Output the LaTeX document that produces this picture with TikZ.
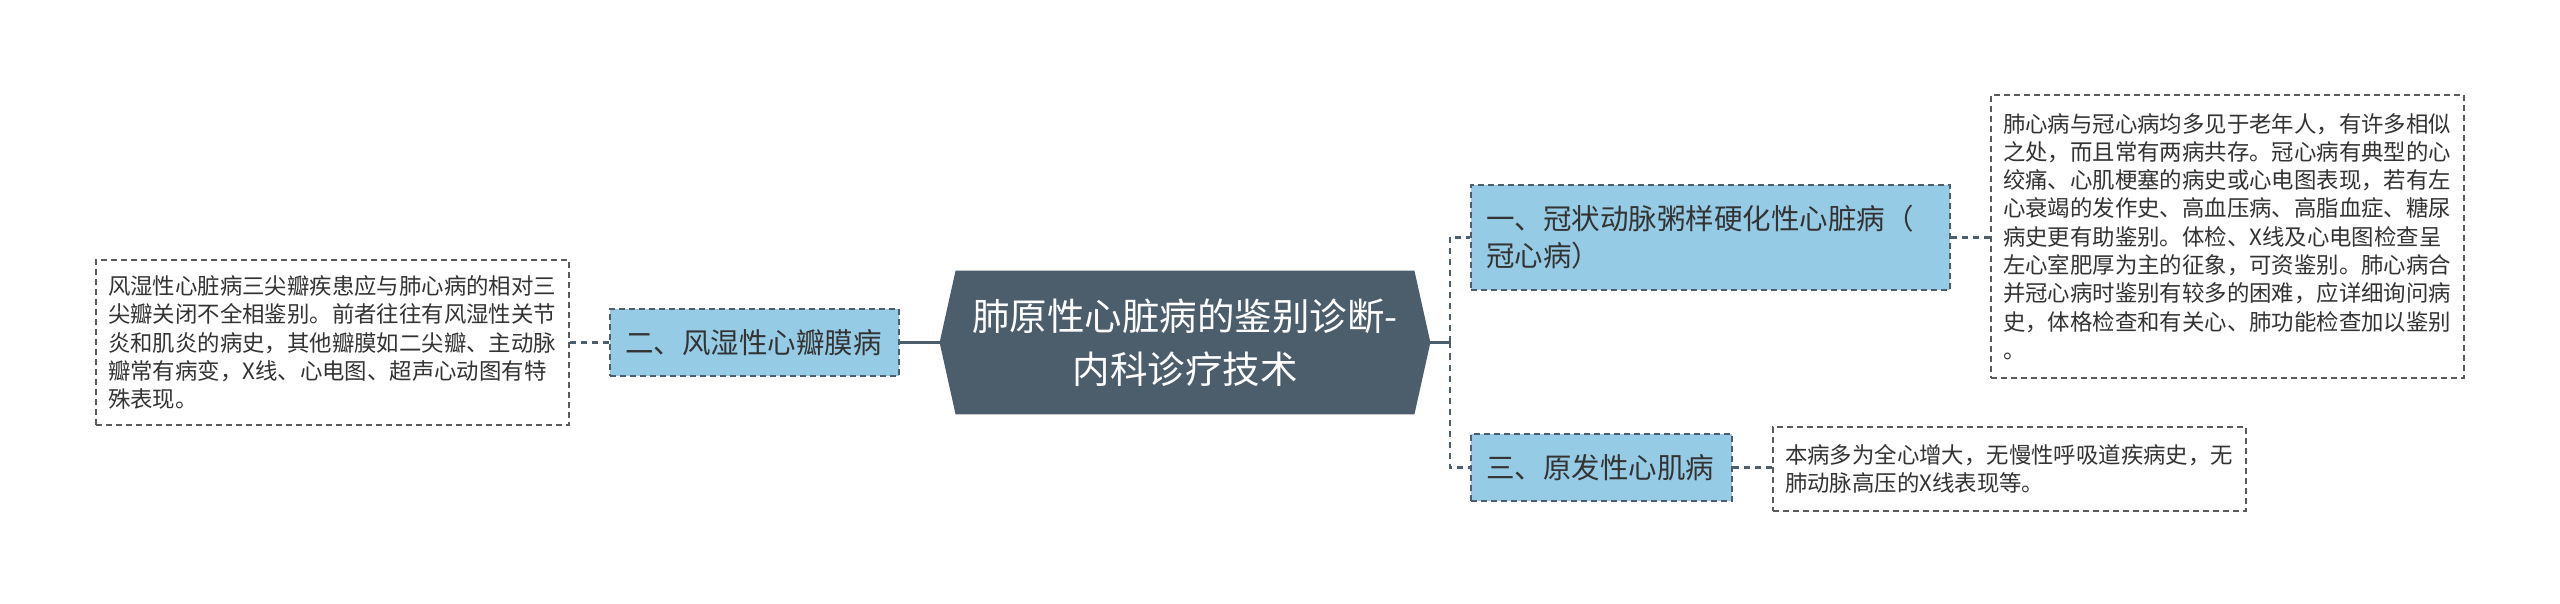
\documentclass[tikz,border=0pt]{standalone}
\usepackage{fontspec}
\setmainfont{Noto Sans CJK SC}
\usetikzlibrary{calc,backgrounds}
\definecolor{hexc}{HTML}{4C5D6C}
\definecolor{bluec}{HTML}{96CBE5}
\definecolor{txtc}{HTML}{333333}
\definecolor{brd}{HTML}{5A5A5A}
\begin{document}
\begin{tikzpicture}[x=0.5pt,y=-0.5pt,
  notebox/.style={draw=brd, line width=0.8pt, dash pattern=on 3pt off 2pt,
    fill=white, inner xsep=6pt, inner ysep=0pt, align=left, text=txtc,
    font=\fontsize{11.2pt}{14.15pt}\selectfont, text width=224.5pt, anchor=center},
  bluebox/.style={draw=hexc, line width=1pt, dash pattern=on 3pt off 2pt,
    fill=bluec, inner xsep=7.5pt, inner ysep=0pt, align=left, text=txtc,
    font=\fontsize{14.25pt}{18.5pt}\selectfont, anchor=center},
  conn/.style={draw=hexc, line width=1.3pt, dash pattern=on 3pt off 2.5pt},
  solidconn/.style={draw=hexc, line width=1.5pt},
  rootbox/.style={minimum width=245pt, minimum height=71.5pt, inner sep=0pt,
    align=center, text=white, font=\fontsize{18.75pt}{26.5pt}\selectfont}
]
\begin{pgfonlayer}{background}
\fill[white] (0,0) rectangle (2560,604);
\end{pgfonlayer}
\useasboundingbox (0,0) rectangle (2560,604);

% root
\node[rootbox] (c) at (1185,342.5) {肺原性心脏病的鉴别诊断-\\内科诊疗技术};
\begin{pgfonlayer}{background}
\fill[hexc] (c.west) -- ($(c.north west)+(16,0)$) -- ($(c.north east)+(-16,0)$)
  -- (c.east) -- ($(c.south east)+(-16,0)$) -- ($(c.south west)+(16,0)$) -- cycle;
\end{pgfonlayer}

% left branch
\node[bluebox, text width=129.5pt, minimum height=33.5pt] (bl) at (754.5,342.5)
  {二、风湿性心瓣膜病};
\node[notebox, minimum height=82.5pt] (lb) at (332.5,342.5)
  {风湿性心脏病三尖瓣疾患应与肺心病的相对三\\
   尖瓣关闭不全相鉴别。前者往往有风湿性关节\\
   炎和肌炎的病史，其他瓣膜如二尖瓣、主动脉\\
   瓣常有病变，X线、心电图、超声心动图有特\\
   殊表现。};

% right branches
\node[bluebox, text width=224.5pt, minimum height=52.5pt] (bt) at (1710.5,237.5)
  {一、冠状动脉粥样硬化性心脏病（\\冠心病）};
\node[bluebox, text width=115.5pt, minimum height=33.5pt] (bb) at (1601.5,467.5)
  {三、原发性心肌病};
\node[notebox, minimum height=141.5pt] (rt) at (2227.5,236.5)
  {肺心病与冠心病均多见于老年人，有许多相似\\
   之处，而且常有两病共存。冠心病有典型的心\\
   绞痛、心肌梗塞的病史或心电图表现，若有左\\
   心衰竭的发作史、高血压病、高脂血症、糖尿\\
   病史更有助鉴别。体检、X线及心电图检查呈\\
   左心室肥厚为主的征象，可资鉴别。肺心病合\\
   并冠心病时鉴别有较多的困难，应详细询问病\\
   史，体格检查和有关心、肺功能检查加以鉴别\\
   。};
\node[notebox, minimum height=42pt] (rb) at (2009.5,469)
  {本病多为全心增大，无慢性呼吸道疾病史，无\\
   肺动脉高压的X线表现等。};

% connectors
\coordinate (j) at (1450,342.5);
\draw[solidconn] (bl.east) -- (c.west);
\draw[conn] (lb.east) -- (bl.west);
\draw[solidconn] (c.east) -- (j);
\draw[conn] (j) |- (bt.west);
\draw[conn] (j) |- (bb.west);
\draw[conn] (bt.east) -- (bt.east -| rt.west);
\draw[conn] (bb.east) -- (bb.east -| rb.west);
\end{tikzpicture}
\end{document}
